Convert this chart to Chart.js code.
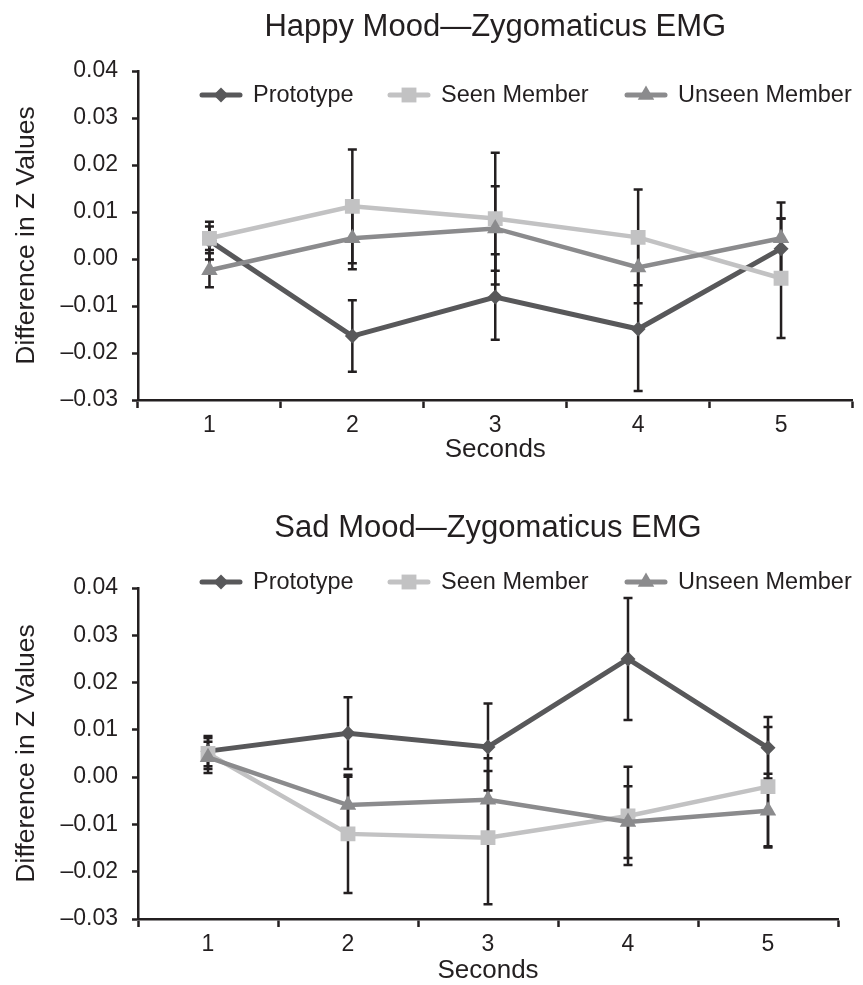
<!DOCTYPE html>
<html lang="en">
<head>
  <meta charset="UTF-8">
  <title>Zygomaticus EMG</title>
  <style>
    html, body {
      margin: 0;
      padding: 0;
      background: #fff;
      overflow: hidden;
    }

    .chart-box {
      position: absolute;
      left: 0;
      width: 863px;
    }

    #happyBox { top: 0; height: 490px; }
    #sadBox { top: 490px; height: 495px; }
  </style>
  <script src="https://cdn.jsdelivr.net/npm/chart.js"></script>
</head>
<body>
  <div id="happyBox" class="chart-box"><canvas id="happyChart"></canvas></div>
  <div id="sadBox" class="chart-box"><canvas id="sadChart"></canvas></div>

  <script>
    // x categories and y range
    const seconds = ['1', '2', '3', '4', '5'];
    const yMin = -0.03;
    const yMax = 0.04;
    const yStep = 0.01;

    // Happy mood: means and error bar half-lengths
    const happyPrototype = [0.0039, -0.0164, -0.0081, -0.0149, 0.0022];
    const happyPrototypeErr = [0.0040, 0.0076, 0.0091, 0.0132, 0.0064];
    const happySeen = [0.0044, 0.0112, 0.0086, 0.0046, -0.0041];
    const happySeenErr = [0.0025, 0.0121, 0.0140, 0.0102, 0.0127];
    const happyUnseen = [-0.0024, 0.0044, 0.0065, -0.0018, 0.0044];
    const happyUnseenErr = [0.0036, 0.0066, 0.0090, 0.0076, 0.0076];

    // Sad mood
    const sadPrototype = [0.0055, 0.0093, 0.0064, 0.0250, 0.0062];
    const sadPrototypeErr = [0.0032, 0.0076, 0.0092, 0.0129, 0.0065];
    const sadSeen = [0.0050, -0.0120, -0.0128, -0.0082, -0.0020];
    const sadSeenErr = [0.0033, 0.0125, 0.0141, 0.0104, 0.0126];
    const sadUnseen = [0.0042, -0.0059, -0.0048, -0.0095, -0.0071];
    const sadUnseenErr = [0.0033, 0.0060, 0.0088, 0.0076, 0.0078];

    const ink = '#231f20';
    Chart.defaults.font.family = "'Liberation Sans', Arial, Helvetica, sans-serif";
    Chart.defaults.color = ink;

    // vertical error bars, drawn behind the lines
    const errorBars = {
      id: 'errorBars',
      beforeDatasetsDraw(chart) {
        const ctx = chart.ctx;
        const yScale = chart.scales.y;
        ctx.save();
        ctx.strokeStyle = ink;
        ctx.lineWidth = 2.5;
        chart.data.datasets.forEach((ds, i) => {
          const meta = chart.getDatasetMeta(i);
          meta.data.forEach((pt, j) => {
            const top = yScale.getPixelForValue(ds.data[j] + ds.errors[j]);
            const bot = yScale.getPixelForValue(ds.data[j] - ds.errors[j]);
            ctx.beginPath();
            ctx.moveTo(pt.x, top); ctx.lineTo(pt.x, bot);
            ctx.moveTo(pt.x - 4.5, top); ctx.lineTo(pt.x + 4.5, top);
            ctx.moveTo(pt.x - 4.5, bot); ctx.lineTo(pt.x + 4.5, bot);
            ctx.stroke();
          });
        });
        ctx.restore();
      }
    };

    // legend entries as line + marker, like the original figure
    const lineLegend = {
      id: 'lineLegend',
      afterDraw(chart, args, opts) {
        const ctx = chart.ctx;
        const y = chart.chartArea.top + opts.offsetY;
        ctx.save();
        chart.data.datasets.forEach((ds, i) => {
          const x = opts.starts[i];
          ctx.strokeStyle = ds.borderColor;
          ctx.fillStyle = ds.borderColor;
          ctx.lineWidth = 5;
          ctx.lineCap = 'round';
          ctx.beginPath();
          ctx.moveTo(x + 2, y);
          ctx.lineTo(x + 40, y);
          ctx.stroke();
          Chart.helpers.drawPoint(ctx, {
            pointStyle: ds.pointStyle,
            radius: ds.pointRadius,
            rotation: 0,
            borderWidth: 0
          }, x + 21, y);
          ctx.fillStyle = ink;
          ctx.font = "23.5px 'Liberation Sans', Arial, sans-serif";
          ctx.textBaseline = 'middle';
          ctx.fillText(ds.label, x + 53, y + 1);
        });
        ctx.restore();
      }
    };

    function series(label, values, errors, color, style, radius, width, order) {
      return {
        label: label,
        data: values,
        errors: errors,
        borderColor: color,
        backgroundColor: color,
        pointBackgroundColor: color,
        pointBorderColor: color,
        pointBorderWidth: 0,
        pointStyle: style,
        pointRadius: radius,
        borderWidth: width,
        tension: 0,
        fill: false,
        order: order
      };
    }

    function makeChart(canvasId, title, data, layout) {
      new Chart(document.getElementById(canvasId), {
        type: 'line',
        data: {
          labels: seconds,
          datasets: [
            series('Prototype', data[0], data[1], '#58585a', 'rectRot', 7.5, 5, 3),
            series('Seen Member', data[2], data[3], '#c2c2c3', 'rect', 10.5, 4.5, 2),
            series('Unseen Member', data[4], data[5], '#8b8b8d', 'triangle', 9.5, 4.5, 1)
          ]
        },
        options: {
          responsive: true,
          maintainAspectRatio: false,
          animation: false,
          layout: { padding: layout.padding },
          plugins: {
            legend: { display: false },
            tooltip: { enabled: false },
            title: {
              display: true,
              text: title,
              fullSize: false,
              color: ink,
              font: { size: 31, weight: 'normal' },
              padding: layout.titlePadding
            },
            lineLegend: { offsetY: layout.legendY, starts: [200, 388, 625] }
          },
          scales: {
            x: {
              offset: true,
              afterFit: (scale) => { scale.height = layout.xHeight; },
              grid: {
                offset: true,
                drawOnChartArea: false,
                drawTicks: true,
                tickLength: 8,
                tickWidth: 2.5,
                tickColor: ink
              },
              border: { display: true, color: ink, width: 2.5 },
              ticks: { font: { size: 23 }, color: ink, padding: 4 },
              title: {
                display: true,
                text: 'Seconds',
                color: ink,
                font: { size: 26, lineHeight: 1 },
                padding: { top: 0, bottom: 0 }
              }
            },
            y: {
              min: yMin,
              max: yMax,
              afterFit: (scale) => { scale.width = 138; },
              grid: {
                drawOnChartArea: false,
                drawTicks: true,
                tickLength: 6,
                tickWidth: 2.5,
                tickColor: ink
              },
              border: { display: true, color: ink, width: 2.5 },
              ticks: {
                stepSize: yStep,
                font: { size: 23 },
                color: ink,
                padding: 14,
                callback: (v) => {
                  const s = Math.abs(v).toFixed(2);
                  return v < -1e-9 ? '\u2013' + s : s;
                }
              },
              title: {
                display: true,
                text: 'Difference in Z Values',
                color: ink,
                font: { size: 26.5 },
                padding: { top: 11, bottom: 0 }
              }
            }
          }
        },
        plugins: [errorBars, lineLegend]
      });
    }

    makeChart('happyChart', 'Happy Mood\u2014Zygomaticus EMG',
      [happyPrototype, happyPrototypeErr, happySeen, happySeenErr, happyUnseen, happyUnseenErr],
      {
        padding: { top: 0, left: 0, right: 4, bottom: 27 },
        titlePadding: { top: 8.4, bottom: 25.4 },
        legendY: 24,
        xHeight: 63
      });

    makeChart('sadChart', 'Sad Mood\u2014Zygomaticus EMG',
      [sadPrototype, sadPrototypeErr, sadSeen, sadSeenErr, sadUnseen, sadUnseenErr],
      {
        padding: { top: 0, left: 0, right: 25, bottom: 1 },
        titlePadding: { top: 19.4, bottom: 41.4 },
        legendY: -6,
        xHeight: 65
      });
  </script>
</body>
</html>
